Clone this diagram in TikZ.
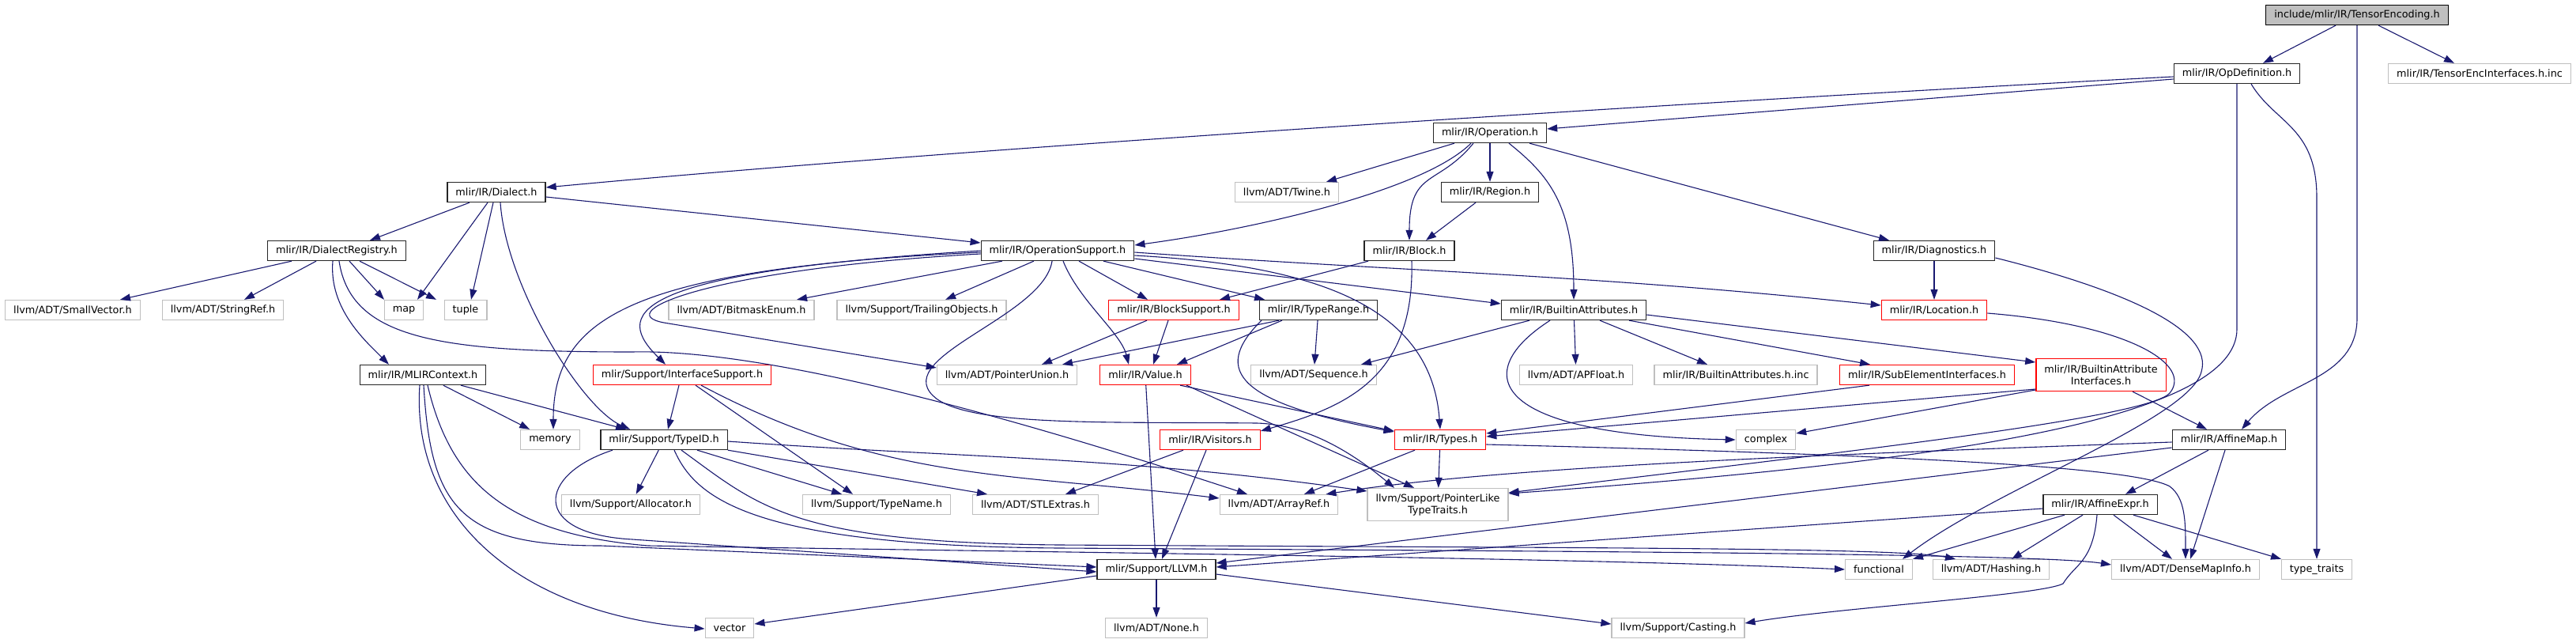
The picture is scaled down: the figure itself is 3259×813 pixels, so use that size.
\documentclass[tikz,border=0pt]{standalone}
\usepackage{fontspec}
\setmainfont{DejaVu Sans}
\usetikzlibrary{arrows.meta}

\definecolor{depblue}{HTML}{191970}
\definecolor{sysgray}{HTML}{BFBFBF}

\begin{document}
\begin{tikzpicture}[x=1pt, y=-1pt,
    hdr/.style={draw=black!85, line width=1.3pt, fill=white, minimum height=25pt, inner xsep=10.5pt, inner ysep=2pt, align=center, font=\fontsize{12.8}{15}\selectfont},
    sys/.style={hdr, draw=sysgray},
    trunc/.style={hdr, draw=red},
    root/.style={hdr, draw=black, fill=sysgray},
    twoline/.style={minimum height=41pt},
    dep/.style={draw=depblue, line width=1.1pt, -{Triangle[length=13pt, width=9pt]}}
]
    \useasboundingbox (0,0) rectangle (3259,813);

    \node[root] (tensorenc) at (2982, 19) {include/mlir/IR/TensorEncoding.h};
    \node[hdr] (opdef) at (2830, 93) {mlir/IR/OpDefinition.h};
    \node[sys] (encinc) at (3137, 93) {mlir/IR/TensorEncInterfaces.h.inc};
    \node[hdr] (operation) at (1885, 168) {mlir/IR/Operation.h};
    \node[hdr] (dialect) at (628, 243) {mlir/IR/Dialect.h};
    \node[sys] (twine) at (1628, 243) {llvm/ADT/Twine.h};
    \node[hdr] (region) at (1885, 243) {mlir/IR/Region.h};
    \node[hdr] (registry) at (426, 317) {mlir/IR/DialectRegistry.h};
    \node[hdr] (opsupport) at (1338, 317) {mlir/IR/OperationSupport.h};
    \node[hdr] (block) at (1783, 317) {mlir/IR/Block.h};
    \node[hdr] (diag) at (2447, 317) {mlir/IR/Diagnostics.h};
    \node[sys] (smallvec) at (92, 392) {llvm/ADT/SmallVector.h};
    \node[sys] (stringref) at (282, 392) {llvm/ADT/StringRef.h};
    \node[sys] (map) at (511, 392) {map};
    \node[sys] (tuple) at (589, 392) {tuple};
    \node[sys] (bitmask) at (938, 392) {llvm/ADT/BitmaskEnum.h};
    \node[sys] (trailing) at (1166, 392) {llvm/Support/TrailingObjects.h};
    \node[trunc] (blocksup) at (1485, 392) {mlir/IR/BlockSupport.h};
    \node[hdr] (typerange) at (1668, 392) {mlir/IR/TypeRange.h};
    \node[hdr] (battr) at (1991, 392) {mlir/IR/BuiltinAttributes.h};
    \node[trunc] (location) at (2447, 392) {mlir/IR/Location.h};
    \node[hdr] (context) at (535, 474) {mlir/IR/MLIRContext.h};
    \node[trunc] (ifsup) at (863, 474) {mlir/Support/InterfaceSupport.h};
    \node[sys] (ptrunion) at (1274, 474) {llvm/ADT/PointerUnion.h};
    \node[trunc] (value) at (1449, 474) {mlir/IR/Value.h};
    \node[sys] (sequence) at (1662, 474) {llvm/ADT/Sequence.h};
    \node[sys] (apfloat) at (1994, 474) {llvm/ADT/APFloat.h};
    \node[sys] (battrinc) at (2196, 474) {mlir/IR/BuiltinAttributes.h.inc};
    \node[trunc] (subelem) at (2438, 474) {mlir/IR/SubElementInterfaces.h};
    \node[trunc, twoline] (bai) at (2658, 474) {mlir/IR/BuiltinAttribute\\Interfaces.h};
    \node[sys] (memory) at (696, 556) {memory};
    \node[hdr] (typeid) at (840, 556) {mlir/Support/TypeID.h};
    \node[trunc] (visitors) at (1531, 556) {mlir/IR/Visitors.h};
    \node[trunc] (types) at (1822, 556) {mlir/IR/Types.h};
    \node[sys] (complex) at (2234, 556) {complex};
    \node[hdr] (affmap) at (2820, 556) {mlir/IR/AffineMap.h};
    \node[sys] (allocator) at (798, 638) {llvm/Support/Allocator.h};
    \node[sys] (typename) at (1109, 638) {llvm/Support/TypeName.h};
    \node[sys] (stlextras) at (1310, 638) {llvm/ADT/STLExtras.h};
    \node[sys] (arrayref) at (1618, 638) {llvm/ADT/ArrayRef.h};
    \node[sys, twoline] (ptrlike) at (1819, 638) {llvm/Support/PointerLike\\TypeTraits.h};
    \node[hdr] (affexpr) at (2657, 638) {mlir/IR/AffineExpr.h};
    \node[hdr] (llvm) at (1463, 720) {mlir/Support/LLVM.h};
    \node[sys] (functional) at (2377, 720) {functional};
    \node[sys] (hashing) at (2519, 720) {llvm/ADT/Hashing.h};
    \node[sys] (densemap) at (2765, 720) {llvm/ADT/DenseMapInfo.h};
    \node[sys] (typetraits) at (2931, 720) {type\_traits};
    \node[sys] (vector) at (923, 794) {vector};
    \node[sys] (none) at (1463, 794) {llvm/ADT/None.h};
    \node[sys] (casting) at (2123, 794) {llvm/Support/Casting.h};

    \draw[dep] ([xshift=-27pt]tensorenc.south) -- ([xshift=33pt]opdef.north);
    \draw[dep] ([xshift=27pt]tensorenc.south) -- ([xshift=-32pt]encinc.north);
    \draw[dep] (tensorenc.south) -- ++(0,370) to[out=-90, in=50] ([xshift=16pt]affmap.north);

    \draw[dep] ([yshift=-4pt]opdef.west) .. controls (2300,120) and (1300,180) .. ([yshift=6pt]dialect.east);
    \draw[dep] ([yshift=-7pt]opdef.west) -- ([yshift=5pt]operation.east);
    \draw[dep] (opdef.south) -- ++(0,310) .. controls +(0,115) and (2450,585) .. ([yshift=14pt]ptrlike.east);
    \draw[dep] ([xshift=18pt]opdef.south) .. controls +(30,50) and (2931,160) .. (2931,250) -- (typetraits.north);

    \draw[dep] ([xshift=-45pt]operation.south) -- ([xshift=50pt]twine.north);
    \draw[dep] (operation) -- (region);
    \draw[dep] ([xshift=-21pt]operation.south) .. controls +(-45,55) and +(0,-90) .. (block.north);
    \draw[dep] ([xshift=-24pt]operation.south) .. controls +(-60,60) and +(150,-20) .. ([yshift=7pt]opsupport.east);
    \draw[dep] ([xshift=24pt]operation.south) .. controls +(50,40) and +(0,-120) .. (battr.north);
    \draw[dep] ([xshift=50pt]operation.south) -- ([xshift=-57pt]diag.north);
    \draw[dep] ([xshift=-18pt]region.south) -- ([xshift=21pt]block.north);

    \draw[dep] ([xshift=-34pt]dialect.south) -- ([xshift=42pt]registry.north);
    \draw[dep] ([xshift=-11pt]dialect.south) -- ([xshift=17pt]map.north);
    \draw[dep] ([xshift=-4pt]dialect.south) -- ([xshift=7pt]tuple.north);
    \draw[dep] ([xshift=5pt]dialect.south) .. controls +(7,105) and (735,515) .. ([xshift=-43pt]typeid.north);
    \draw[dep] ([yshift=-6pt]dialect.east) -- ([yshift=10pt]opsupport.west);

    \draw[dep] ([xshift=-57pt]registry.south) -- ([xshift=60pt]smallvec.north);
    \draw[dep] ([xshift=-26pt]registry.south) -- ([xshift=27pt]stringref.north);
    \draw[dep] ([xshift=16pt]registry.south) -- ([xshift=-25pt]map.north);
    \draw[dep] ([xshift=29pt]registry.south) -- ([xshift=-37pt]tuple.north);
    \draw[dep] ([xshift=-5pt]registry.south) .. controls +(-5,60) and +(-30,-30) .. ([xshift=-43pt]context.north);
    \draw[dep] ([xshift=3pt]registry.south) .. controls +(15,100) and (560,445) .. (800,445) .. controls (1000,440) and (1380,560) .. ([xshift=-40pt]arrayref.north);

    \draw[dep] ([yshift=-2pt]opsupport.west) .. controls (800,340) and (700,400) .. ([xshift=4pt]memory.north);
    \draw[dep] (opsupport.west) .. controls (780,345) and (780,400) .. ([xshift=-21pt]ifsup.north);
    \draw[dep] ([yshift=-4pt]opsupport.west) .. controls (900,340) and (770,395) .. (840,408) -- ([yshift=9pt]ptrunion.west);
    \draw[dep] (opsupport) -- (bitmask);
    \draw[dep] (opsupport) -- (trailing);
    \draw[dep] ([xshift=-7pt]opsupport.south) .. controls (1320,400) and (1130,450) .. (1180,500) .. controls (1220,540) and (1400,533) .. (1590,535) .. controls (1660,537) and (1720,580) .. ([xshift=-55pt]ptrlike.north);
    \draw[dep] ([xshift=7pt]opsupport.south) .. controls +(20,50) and +(-10,-40) .. ([xshift=-21pt]value.north);
    \draw[dep] ([xshift=27pt]opsupport.south) -- ([xshift=-33pt]blocksup.north);
    \draw[dep] ([xshift=58pt]opsupport.south) -- ([xshift=-68pt]typerange.north);
    \draw[dep] ([yshift=-10pt]opsupport.east) -- ([yshift=8pt]battr.west);
    \draw[dep] ([yshift=-2pt]opsupport.east) to[out=-4, in=174] ([yshift=6pt]location.west);
    \draw[dep] ([yshift=-6pt]opsupport.east) .. controls (1650,335) and (1810,380) .. (types.north);

    \draw[dep] ([xshift=-52pt]block.south) -- ([xshift=58pt]blocksup.north);
    \draw[dep] ([xshift=3pt]block.south) .. controls (1790,480) and (1700,515) .. ([yshift=11pt]visitors.east);

    \draw[dep] (diag) -- (location);
    \draw[dep] ([yshift=-9pt]diag.east) .. controls (2700,370) and (2800,420) .. (2785,470) .. controls (2770,530) and (2520,620) .. ([xshift=30pt]functional.north);
    \draw[dep] ([yshift=-4pt]location.east) .. controls (2690,410) and (2775,460) .. (2745,497) .. controls (2715,530) and (2300,575) .. ([yshift=15pt]ptrlike.east);

    \draw[dep] ([xshift=-34pt]blocksup.south) -- ([xshift=44pt]ptrunion.north);
    \draw[dep] ([xshift=-7pt]blocksup.south) -- ([xshift=10pt]value.north);

    \draw[dep] ([xshift=-50pt]typerange.south) -- ([xshift=70pt]ptrunion.north);
    \draw[dep] ([xshift=-46pt]typerange.south) -- ([xshift=40pt]value.north);
    \draw[dep] (typerange) -- (sequence);
    \draw[dep] ([xshift=-72pt]typerange.south) .. controls (1530,470) and (1570,510) .. ([yshift=10pt]types.west);

    \draw[dep] ([xshift=-56pt]battr.south) -- ([xshift=60pt]sequence.north);
    \draw[dep] (battr) -- (apfloat);
    \draw[dep] ([xshift=33pt]battr.south) -- ([xshift=-36pt]battrinc.north);
    \draw[dep] ([xshift=70pt]battr.south) -- ([xshift=-72pt]subelem.north);
    \draw[dep] ([yshift=-6pt]battr.east) -- ([yshift=16pt]bai.west);
    \draw[dep] ([xshift=-30pt]battr.south) .. controls (1860,470) and (1880,550) .. (complex.west);

    \draw[dep] ([xshift=-4pt]ifsup.south) -- ([xshift=5pt]typeid.north);
    \draw[dep] ([xshift=17pt]ifsup.south) -- ([xshift=-30pt]typename.north);
    \draw[dep] ([xshift=24pt]ifsup.south) to[out=-28, in=173] ([yshift=8pt]arrayref.west);

    \draw[dep] (context) -- (memory);
    \draw[dep] ([xshift=48pt]context.south) -- ([xshift=-48pt]typeid.north);
    \draw[dep] ([xshift=-4pt]context.south) .. controls (520,650) and (650,775) .. ([yshift=-1pt]vector.west);
    \draw[dep] ([xshift=1pt]context.south) .. controls (545,640) and (580,690) .. (760,690) -- ([yshift=3pt]llvm.west);
    \draw[dep] ([xshift=6pt]context.south) .. controls (570,610) and (640,675) .. (820,690) .. controls (1300,698) and (2000,705) .. (functional.west);

    \draw[dep] (typeid) -- (allocator);
    \draw[dep] ([xshift=42pt]typeid.south) -- ([xshift=-44pt]typename.north);
    \draw[dep] (typeid.south east) -- ([xshift=-61pt]stlextras.north);
    \draw[dep] ([yshift=-2pt]typeid.east) to[out=-4, in=172] ([yshift=17pt]ptrlike.west);
    \draw[dep] ([xshift=-65pt]typeid.south) .. controls (680,600) and (670,675) .. (800,682) -- ([yshift=-3pt]llvm.west);
    \draw[dep] ([xshift=13pt]typeid.south) .. controls (880,630) and (950,690) .. (1340,693) .. controls (2000,697) and (2580,700) .. ([yshift=6pt]densemap.west);
    \draw[dep] ([xshift=22pt]typeid.south) .. controls (960,640) and (1000,686) .. (1340,689) .. controls (2000,693) and (2400,692) .. ([xshift=-45pt]hashing.north);

    \draw[dep] (value) -- ([xshift=-1pt]llvm.north);
    \draw[dep] ([xshift=44pt]value.south) -- ([yshift=11pt]types.west);
    \draw[dep] ([xshift=52pt]value.south) -- ([xshift=-30pt]ptrlike.north);

    \draw[dep] ([xshift=-34pt]visitors.south) -- ([xshift=38pt]stlextras.north);
    \draw[dep] ([xshift=-5pt]visitors.south) -- ([xshift=7pt]llvm.north);

    \draw[dep] ([xshift=-32pt]types.south) -- ([xshift=32pt]arrayref.north);
    \draw[dep] (types) -- (ptrlike);
    \draw[dep] ([yshift=-6pt]types.east) .. controls (2400,575) and (2700,590) .. (2745,615) .. controls (2765,630) and (2765,660) .. (densemap.north);

    \draw[dep] ([xshift=-73pt]subelem.south) -- ([yshift=8pt]types.east);
    \draw[dep] ([yshift=-18pt]bai.west) -- ([yshift=4pt]types.east);
    \draw[dep] ([yshift=-19pt]bai.west) -- ([yshift=8pt]complex.east);
    \draw[dep] ([xshift=40pt]bai.south) -- ([xshift=-28pt]affmap.north);

    \draw[dep] ([xshift=-26pt]affmap.south) -- ([xshift=32pt]affexpr.north);
    \draw[dep] ([xshift=-5pt]affmap.south) -- ([xshift=6pt]densemap.north);
    \draw[dep] ([yshift=-3pt]affmap.west) .. controls (2300,575) and (1900,590) .. ([xshift=-16pt]arrayref.north east);
    \draw[dep] ([yshift=-10pt]affmap.west) -- ([yshift=8pt]llvm.east);

    \draw[dep] ([yshift=-5pt]affexpr.west) -- ([yshift=3pt]llvm.east);
    \draw[dep] ([xshift=-45pt]affexpr.south) -- (functional.north east);
    \draw[dep] ([xshift=-22pt]affexpr.south) -- ([xshift=26pt]hashing.north);
    \draw[dep] ([xshift=17pt]affexpr.south) -- ([xshift=-17pt]densemap.north);
    \draw[dep] ([xshift=42pt]affexpr.south) -- ([xshift=-45pt]typetraits.north);
    \draw[dep] ([xshift=-4pt]affexpr.south) .. controls +(-5,60) and +(15,-25) .. (2610,738) .. controls +(-30,15) and +(120,-20) .. ([yshift=6pt]casting.east);

    \draw[dep] ([yshift=-8pt]llvm.west) -- ([yshift=5pt]vector.east);
    \draw[dep] (llvm) -- (none);
    \draw[dep] ([yshift=-6pt]llvm.east) -- ([yshift=5pt]casting.west);
\end{tikzpicture}
\end{document}
